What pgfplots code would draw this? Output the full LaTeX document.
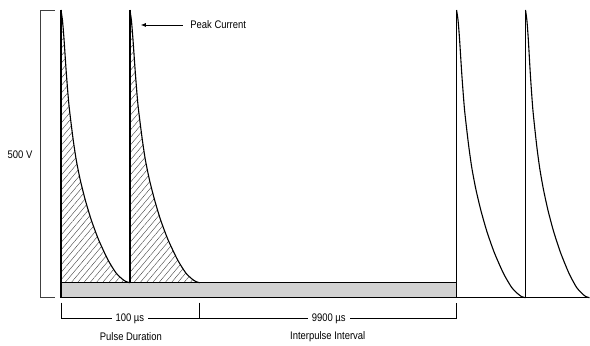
\documentclass[border=0pt]{standalone}
\usepackage{fontspec}
\setmainfont{Liberation Sans}[FakeStretch=0.86]
\usepackage{pgfplots}
\pgfplotsset{compat=1.18}
\usetikzlibrary{patterns.meta, arrows.meta}
\definecolor{bargray}{HTML}{D2D2D2}
\begin{document}
\begin{tikzpicture}
\begin{axis}[width=590pt,height=344pt,scale only axis,
  xmin=0,xmax=590,ymin=0,ymax=344,hide axis,clip=false]
\path (axis cs:0,0) rectangle (axis cs:590,344);
% hatched areas
\addplot[draw=none, smooth, tension=0.4, pattern={Lines[angle=50,distance=4.8pt,line width=0.4pt]}, pattern color=black!75]
 coordinates {(61,334)(62.5,324)(64,306)(66.3,272)(69,239)(73,206)(76.3,184)(80.3,164)(85.3,144)(91.3,124)(98.7,104)(108,84)(116,71)(122,65)(126,62.2)(130,61)} -- (axis cs:61,61) -- cycle;
\addplot[draw=none, smooth, tension=0.4, pattern={Lines[angle=50,distance=4.8pt,line width=0.4pt]}, pattern color=black!75]
 coordinates {(130,334)(131.5,324)(133,306)(135.4,272)(138.1,239)(142.2,206)(145.5,184)(149.6,164)(154.7,144)(160.7,124)(168.2,104)(177.7,84)(185.8,71)(191.9,65)(196,62.2)(200,61)} -- (axis cs:130,61) -- cycle;
% gray bar
\addplot[fill=bargray, draw=black, line width=1.1pt]
 coordinates {(61,46)(457,46)(457,61)(61,61)} -- cycle;
% baseline right
\addplot[black, line width=1.1pt] coordinates {(457,46)(590,46)};
% decay curves
\addplot[black, line width=1.1pt, smooth, tension=0.4]
 coordinates {(61,334)(62.5,324)(64,306)(66.3,272)(69,239)(73,206)(76.3,184)(80.3,164)(85.3,144)(91.3,124)(98.7,104)(108,84)(116,71)(122,65)(126,62.2)(130,61)};
\addplot[black, line width=1.1pt, smooth, tension=0.4]
 coordinates {(130,334)(131.5,324)(133,306)(135.4,272)(138.1,239)(142.2,206)(145.5,184)(149.6,164)(154.7,144)(160.7,124)(168.2,104)(177.7,84)(185.8,71)(191.9,65)(196,62.2)(200,61)};
\addplot[black, line width=1.1pt, smooth, tension=0.4]
 coordinates {(457,334)(458.5,323.4)(460,304.5)(462.3,268.6)(465,233.8)(469,199)(472.3,175.7)(476.3,154.6)(481.3,133.5)(487.3,112.4)(494.7,91.3)(504,70.2)(512,56.5)(518,50.2)(522,47.2)(526,46)};
\addplot[black, line width=1.1pt, smooth, tension=0.4]
 coordinates {(526,334)(527.4,323.4)(528.8,304.5)(530.9,268.6)(533.4,233.8)(537.1,199)(540.2,175.7)(543.9,154.6)(548.5,133.5)(554.1,112.4)(561,91.3)(569.6,70.2)(577,56.5)(582.6,50.2)(586.3,47.2)(590,46)};
% vertical pulse lines
\addplot[black, line width=1.5pt] coordinates {(61,46)(61,334)};
\addplot[black, line width=1.5pt] coordinates {(130,61)(130,334)};
\addplot[black, line width=1.5pt] coordinates {(457,46)(457,334)};
\addplot[black, line width=1.5pt] coordinates {(526,46)(526,334)};
% left bracket
\draw[black!75, line width=0.7pt] (axis cs:55,334) -- (axis cs:40,334) -- (axis cs:40,46) -- (axis cs:55,46);
\node[font=\fontsize{11}{13}\selectfont] at (axis cs:20,189) {500 V};
% peak current
\draw[black, line width=0.7pt, -{Latex[length=5pt,width=4pt]}] (axis cs:183,319) -- (axis cs:141,319);
\node[anchor=west, font=\fontsize{11}{13}\selectfont] at (axis cs:187,319) {Peak Current};
% bottom brackets
\draw[black, line width=0.7pt] (axis cs:61,41) -- (axis cs:61,25) -- (axis cs:457,25) -- (axis cs:457,41);
\draw[black, line width=1pt] (axis cs:200,41) -- (axis cs:200,25);
\node[fill=white, inner xsep=4pt, font=\fontsize{11}{13}\selectfont] at (axis cs:130,25) {100 µs};
\node[fill=white, inner xsep=4pt, font=\fontsize{11}{13}\selectfont] at (axis cs:329,25) {9900 µs};
\node[font=\fontsize{11}{13}\selectfont] at (axis cs:131,7) {Pulse Duration};
\node[font=\fontsize{11}{13}\selectfont] at (axis cs:328,7) {Interpulse Interval};
\end{axis}
\end{tikzpicture}
\end{document}
